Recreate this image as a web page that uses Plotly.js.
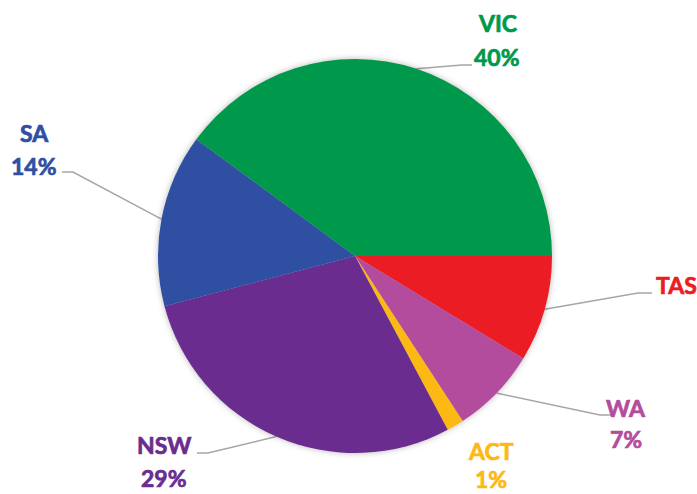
<!DOCTYPE html>
<html>
<head>
<meta charset="utf-8">
<script src="https://cdn.plot.ly/plotly-3.0.1.min.js"></script>
<style>html,body{margin:0;padding:0;background:#fff;}#chart{width:697px;height:494px;}</style>
</head>
<body>
<div id="chart"></div>
<script>
// Data (clockwise from 3 o'clock)
const states = ["TAS", "WA", "ACT", "NSW", "SA", "VIC"];
const shares = [8.7, 7.1, 1.4, 28.7, 14.2, 39.9];
const showPct = [false, true, true, true, true, true];
const colors = ["#EC1C24", "#B44C9E", "#FDB913", "#6A2C8F", "#2E4FA2", "#00994C"];

// Layout (pixels)
const W = 697, H = 494;
const cx = 355, cy = 256, R = 197;
// label centres [nameX, nameY, pctY]
const labelPos = {
  TAS: [676, 285, null],
  WA:  [626, 408, 439],
  ACT: [491, 451, 479],
  NSW: [164, 445, 478],
  SA:  [34, 133, 166],
  VIC: [497, 23, 57]
};
// leader elbow points [elbowX, elbowY, endX] (null = no leader)
const leader = {
  TAS: [638, 293, 652],
  WA:  [600, 415, 613],
  ACT: null,
  NSW: [208, 453, 197],
  SA:  [73, 172, 62],
  VIC: [462, 65, 472]
};

const px = x => x / W;
const py = y => 1 - y / H;

const total = shares.reduce((a, b) => a + b, 0);
const annotations = [];
const shapes = [];
let acc = 0;
states.forEach((s, i) => {
  const frac = shares[i] / total;
  const mid = (acc + frac / 2) * 2 * Math.PI; // clockwise from 3 o'clock, y down
  acc += frac;
  const ex = cx + R * Math.cos(mid), ey = cy + R * Math.sin(mid);
  const lp = labelPos[s];
  const font = {family: "Lato, 'Open Sans', sans-serif", size: 23, color: colors[i], weight: 700};
  annotations.push({xref: "paper", yref: "paper", x: px(lp[0]), y: py(lp[1]),
    xanchor: "center", yanchor: "middle", showarrow: false,
    text: "<b>" + s + "</b>", font: font});
  if (showPct[i]) {
    annotations.push({xref: "paper", yref: "paper", x: px(lp[0]), y: py(lp[2]),
      xanchor: "center", yanchor: "middle", showarrow: false,
      text: "<b>" + Math.round(frac * 100) + "%</b>", font: font});
  }
  const L = leader[s];
  if (L) {
    shapes.push({type: "path", xref: "paper", yref: "paper",
      path: `M ${px(ex)} ${py(ey)} L ${px(L[0])} ${py(L[1])} L ${px(L[2])} ${py(L[1])}`,
      line: {color: "#A6A6A6", width: 1.5}, layer: "below"});
  }
});

const trace = {
  type: "pie",
  labels: states,
  values: shares,
  sort: false,
  direction: "clockwise",
  rotation: 90,
  marker: {colors: colors, line: {width: 0}},
  textinfo: "none",
  hoverinfo: "label+percent",
  showlegend: false,
  domain: {x: [(cx - R) / W, (cx + R) / W], y: [1 - (cy + R) / H, 1 - (cy - R) / H]}
};

const layout = {
  width: W, height: H,
  margin: {l: 0, r: 0, t: 0, b: 0},
  paper_bgcolor: "#fff",
  showlegend: false,
  annotations: annotations,
  shapes: shapes
};

Plotly.newPlot("chart", [trace], layout, {displayModeBar: false, staticPlot: true}).then(() => {
  const pl = document.querySelector(".pielayer");
  if (pl) pl.style.filter = "drop-shadow(0 0 3px rgba(0,0,0,0.28))";
  document.querySelectorAll(".annotation-text").forEach(t => {
    const c = t.style.fill || t.getAttribute("fill");
    t.style.stroke = c;
    t.style.strokeWidth = "0.7px";
  });
});
</script>
</body>
</html>
